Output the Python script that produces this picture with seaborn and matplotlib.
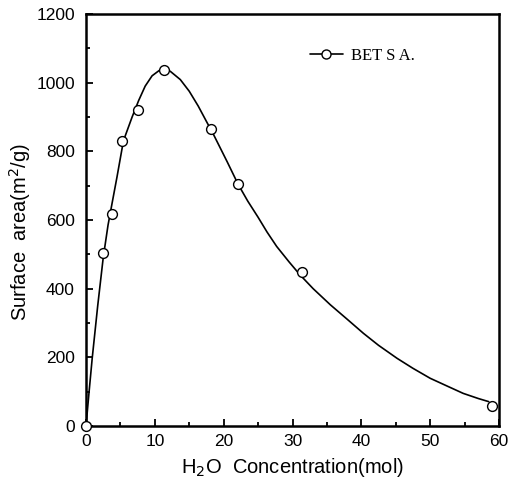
import matplotlib
matplotlib.use("Agg")
import matplotlib.pyplot as plt
import seaborn as sns
import pandas as pd
from matplotlib.lines import Line2D
from matplotlib.ticker import MultipleLocator

sns.set_style("ticks")
plt.rcParams['font.family'] = ['Liberation Sans', 'DejaVu Sans']
plt.rcParams['text.color'] = 'black'
plt.rcParams['axes.labelcolor'] = 'black'

# measured points
h2o = [0, 2.5, 3.8, 5.25, 7.6, 11.35, 18.2, 22.1, 31.4, 59.0]
area = [0, 503, 618, 830, 919, 1037, 865, 705, 448, 59]

# fitted curve
curve_x = [0, 0.45, 0.9, 1.7, 2.5, 3.2, 3.8, 4.5, 5.3, 5.7, 6.7, 7.65, 8.6,
           9.6, 10.6, 11.4, 12.25, 13.7, 15.0, 16.3, 17.5, 18.5, 19.5, 20.5,
           21.3, 22.1, 23.5, 25.0, 26.3, 27.7, 29.5, 31.1, 33.0, 35.5, 38.0,
           40.3, 42.5, 45.2, 47.5, 50.0, 52.5, 54.8, 57.0, 58.5]
curve_y = [0, 100, 197, 350, 490, 585, 650, 725, 815, 845, 900, 948, 990,
           1020, 1035, 1039, 1033, 1009, 975, 932, 887, 850, 810, 770,
           737, 704, 655, 608, 565, 523, 478, 440, 400, 353, 310,
           270, 235, 197, 168, 139, 116, 95, 80, 71]

pts = pd.DataFrame({"x": h2o, "y": area})
crv = pd.DataFrame({"x": curve_x, "y": curve_y})

fig = plt.figure(figsize=(5.09, 4.94), dpi=100)
ax = fig.add_axes([86/509, 1-426/494, (499-86)/509, (426-14)/494])

sns.lineplot(data=crv, x="x", y="y", ax=ax, color="black", lw=1.2, sort=False)
sns.scatterplot(data=pts, x="x", y="y", ax=ax, s=50, facecolor="white",
                edgecolor="black", linewidth=1.0, marker="o", zorder=3, clip_on=False)

ax.set_xlim(0, 60)
ax.set_ylim(0, 1200)
ax.xaxis.set_major_locator(MultipleLocator(10))
ax.xaxis.set_minor_locator(MultipleLocator(5))
ax.yaxis.set_major_locator(MultipleLocator(200))
ax.yaxis.set_minor_locator(MultipleLocator(100))
ax.tick_params(which="both", direction="in", width=1.3, labelsize=12.5,
               colors="black", labelcolor="black")
ax.tick_params(which="major", length=5, pad=6)
ax.tick_params(which="minor", length=3)
ax.tick_params(axis="y", which="major", pad=8)
for s in ax.spines.values():
    s.set_linewidth(1.8)
    s.set_color("black")

ax.set_xlabel("H$_2$O  Concentration(mol)", fontsize=14.5, labelpad=5)
ax.set_ylabel("Surface  area(m$^2$/g)", fontsize=14.5, labelpad=5)
ax.yaxis.set_label_coords(-0.128, 0.47)

handle = Line2D([], [], color="black", lw=1.2, marker="o", markersize=6.5,
                markerfacecolor="white", markeredgecolor="black")
leg = ax.legend([handle], ["BET S A."], loc="upper left", bbox_to_anchor=(0.505, 0.955),
                frameon=False, handlelength=2.0, handletextpad=0.5,
                prop={"family": "Liberation Serif", "size": 12})

fig.savefig("out.png", dpi=100)
